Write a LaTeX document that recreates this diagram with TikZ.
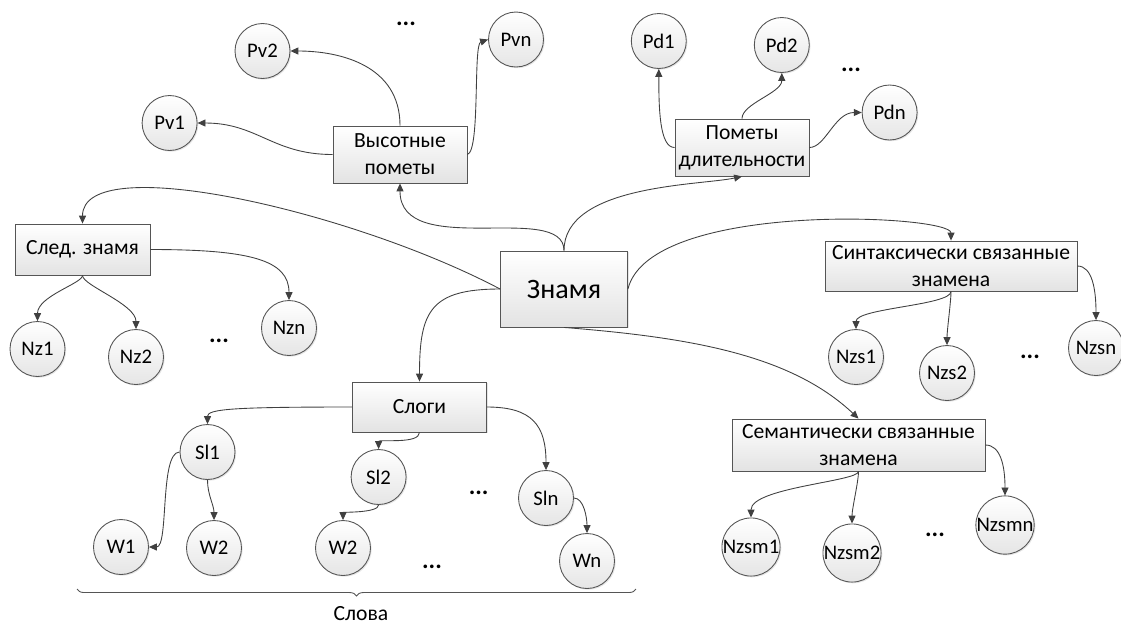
\documentclass[tikz,border=0pt]{standalone}
\usepackage{fontspec}
\setmainfont{Carlito}
\usetikzlibrary{arrows.meta,decorations.pathreplacing,shadows}

\definecolor{edge}{HTML}{404040}
\definecolor{frame}{HTML}{555555}

\begin{document}
\begin{tikzpicture}[%
      x=0.02cm, y=-0.02cm,
      box/.style={draw=frame, line width=0.5pt, top color=white, bottom color=gray!22,
        drop shadow={opacity=0.2, shadow xshift=0.7pt, shadow yshift=-0.7pt},
        align=center, inner sep=1pt, font=\fontsize{12.3}{15.5}\selectfont},
      knot/.style={circle, draw=frame, line width=0.5pt, top color=white, bottom color=gray!20,
        drop shadow={opacity=0.2, shadow xshift=0.7pt, shadow yshift=-0.7pt},
        minimum size=1.1cm, inner sep=0pt, font=\fontsize{11.8}{14}\selectfont},
      link/.style={draw=edge, line width=0.5pt, -{Triangle[length=4.5pt,width=4pt]}},
      more/.style={font=\fontsize{14}{15}\selectfont\bfseries, inner sep=0pt},
      ]
      \useasboundingbox (0,0) rectangle (1121,630);

      \node [box, minimum width=2.54cm, minimum height=1.52cm, font=\fontsize{16}{18}\selectfont] (znamya) at (564,289) {Знамя};
      \node [box, minimum width=2.68cm, minimum height=1.14cm] (vysot) at (400,154.5) {Высотные\\пометы};
      \node [box, minimum width=2.68cm, minimum height=1.14cm] (dlit) at (742,147.5) {Пометы\\длительности};
      \node [box, minimum width=2.7cm, minimum height=1.02cm] (sled) at (82.5,249.5) {След. знамя};
      \node [box, minimum width=5.04cm, minimum height=1.0cm] (sintaks) at (951,266) {Синтаксически связанные\\знамена};
      \node [box, minimum width=2.68cm, minimum height=1.0cm] (slogi) at (419.5,407) {Слоги};
      \node [box, minimum width=5.06cm, minimum height=1.04cm] (semant) at (858.5,445) {Семантически связанные\\знамена};

      \node [knot] (pv1) at (169.6,123) {Pv1};
      \node [knot] (pv2) at (262.5,51) {Pv2};
      \node [knot] (pvn) at (516,39.5) {Pvn};
      \node [knot] (pd1) at (658.8,41) {Pd1};
      \node [knot] (pd2) at (781.8,45) {Pd2};
      \node [knot] (pdn) at (889.6,112.5) {Pdn};
      \node [knot] (nz1) at (37.5,349) {Nz1};
      \node [knot] (nz2) at (136,357) {Nz2};
      \node [knot] (nzn) at (289,328) {Nzn};
      \node [knot] (sl1) at (207.5,452) {Sl1};
      \node [knot] (sl2) at (378.6,477) {Sl2};
      \node [knot] (sln) at (546,498) {Sln};
      \node [knot] (w1) at (121,547) {W1};
      \node [knot] (w2a) at (214,548) {W2};
      \node [knot] (w2b) at (343,548) {W2};
      \node [knot] (wn) at (587,561) {Wn};
      \node [knot] (nzs1) at (856,357) {Nzs1};
      \node [knot] (nzs2) at (947,373) {Nzs2};
      \node [knot] (nzsn) at (1096,348) {Nzsn};
      \node [knot] (nzsm1) at (751,547) {Nzsm1};
      \node [knot] (nzsm2) at (852,553) {Nzsm2};
      \node [knot] (nzsmn) at (1005,525) {Nzsmn};

      \node [more] (dotspv) at (406,24) {...};
      \node [more] (dotspd) at (851,70) {...};
      \node [more] (dotsnz) at (219,341) {...};
      \node [more] (dotssl) at (478.6,493) {...};
      \node [more] (dotsw) at (432,567) {...};
      \node [more] (dotsnzs) at (1030,357) {...};
      \node [more] (dotsnzsm) at (935,535) {...};

      \draw [link] (znamya.north) .. controls +(0,-50) and +(0,77) .. (vysot.south);
      \draw [link] (znamya.north) .. controls +(0,-66) and +(-42,9) .. (dlit.south);
      \draw [link] (znamya.west) .. controls +(-150,-79) and +(0,-74) .. (sled.north);
      \draw [link] (znamya.west) .. controls +(-70,0) and +(0,-70) .. (slogi.north);
      \draw [link] (znamya.east) .. controls +(22,-89) and +(0,-26) .. (sintaks.north);
      \draw [link] (znamya.south) .. controls +(126,10) and +(-68,-64) .. (semant.north);

      \draw [link] (vysot.west) .. controls +(-60,0) and +(60,0) .. (pv1.east);
      \draw [link] (vysot.north) .. controls +(0,-60) and +(50,0) .. (pv2.east);
      \draw [link] (vysot.east) .. controls +(13,-4) and +(-15,5) .. (pvn.west);

      \draw [link] (dlit.west) .. controls +(-15,0) and +(0,40) .. (pd1.south);
      \draw [link] (dlit.north) .. controls +(0,-15) and +(0,20) .. (pd2.south);
      \draw [link] (dlit.east) .. controls +(16,0) and +(-27,0) .. (pdn.west);

      \draw [link] (sled.east) .. controls +(100,0) and +(0,-40) .. (nzn.north);
      \draw [link] (sled.south) .. controls +(0,8) and +(0,-25) .. (nz1.north);
      \draw [link] (sled.south) .. controls +(0,10) and +(0,-25) .. (nz2.north);

      \draw [link] (slogi.west) .. controls +(-120,0) and +(0,-15) .. (sl1.north);
      \draw [link] (slogi.south) .. controls +(0,12) and +(0,-10) .. (sl2.north);
      \draw [link] (slogi.east) .. controls +(45,0) and +(0,-45) .. (sln.north);
      \draw [link] (sl1.west) .. controls +(-20,0) and +(20,0) .. (w1.east);
      \draw [link] (sl1.south) .. controls +(0,15) and +(0,-15) .. (w2a.north);
      \draw [link] (sl2.south) .. controls +(0,8) and +(0,-8) .. (w2b.north);
      \draw [link] (sln.east) .. controls +(10,0) and +(0,-15) .. (wn.north);

      \draw [link] (sintaks.south) .. controls +(0,14) and +(0,-21) .. (nzs1.north);
      \draw [link] (sintaks.south) .. controls +(0,10) and +(0,-15) .. (nzs2.north);
      \draw [link] (sintaks.east) .. controls +(15,0) and +(0,-30) .. (nzsn.north);

      \draw [link] (semant.south) .. controls +(0,10) and +(0,-30) .. (nzsm1.north);
      \draw [link] (semant.south) .. controls +(0,10) and +(0,-15) .. (nzsm2.north);
      \draw [link] (semant.east) .. controls +(15,0) and +(0,-30) .. (nzsmn.north);

      \draw [frame, line width=0.5pt, decorate, decoration={brace, amplitude=4pt, mirror}] (77,589) -- (636,589);
      \node [font=\fontsize{12.3}{14}\selectfont] (slova) at (361,614) {Слова};
      \end{tikzpicture}
\end{document}
